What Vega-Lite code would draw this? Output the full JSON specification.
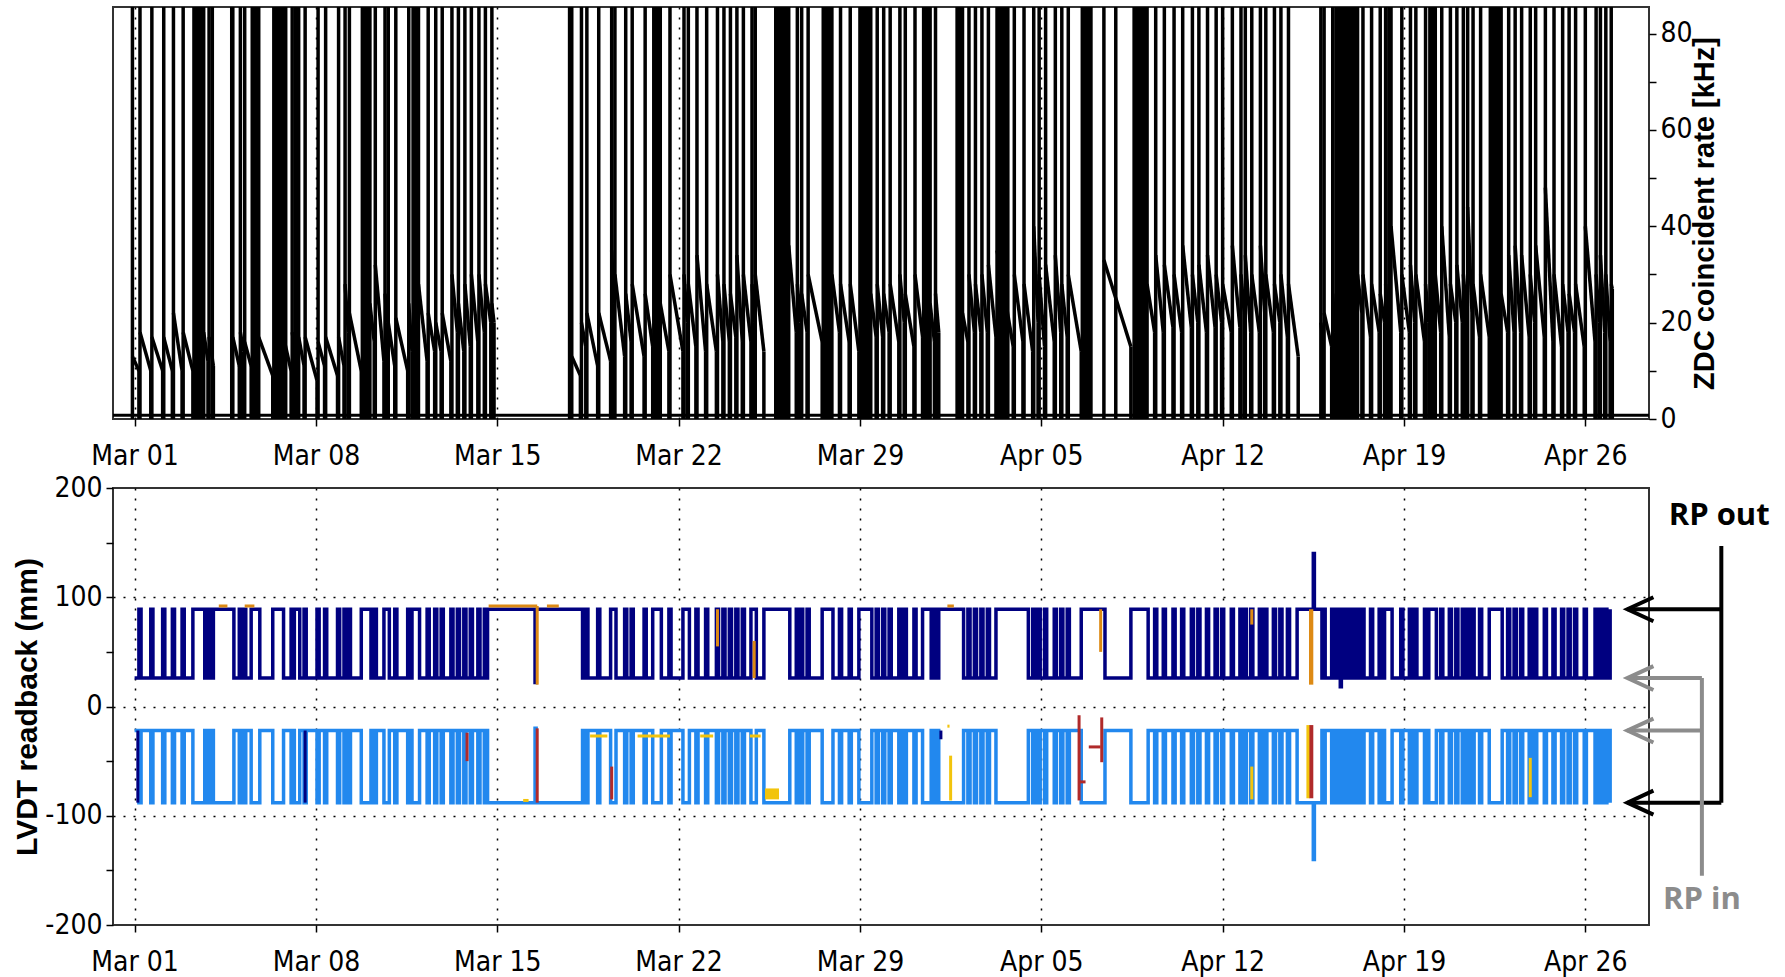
{
"$schema":"https://vega.github.io/schema/vega-lite/v6.json",
"background":"white",
"padding":{"left":11,"top":6,"right":5,"bottom":5},
"spacing":2,
"config":{
 "view":{"stroke":"#333333","strokeWidth":2},
 "axis":{"labelFont":"Liberation Sans Narrow, DejaVu Sans Condensed, Roboto Condensed, Roboto, sans-serif","labelFontSize":28,"labelColor":"#000000","tickColor":"#000000","tickWidth":1.5,"tickSize":7,"domain":false,"titleFont":"Liberation Sans, Arial, sans-serif","titleFontWeight":"bold","titleColor":"#000000","gridColor":"#000000","gridDash":[2,8],"gridWidth":1.5,"labelOverlap":false,"labelBound":false,"labelFlush":false}
},
"vconcat":[
{
 "width":1536,"height":412,
 "layer":[
  {"data":{"values":[{"v":0.8}]},
   "mark":{"type":"rule","color":"#000000","strokeWidth":3},
   "encoding":{"y":{"field":"v","type":"quantitative","scale":{"domain":[0,85.5],"nice":false,"zero":false},"axis":{"orient":"right","values":[0,10,20,30,40,50,60,70,80],"labelExpr":"datum.value % 20 === 0 ? '' + datum.value : ''","grid":false,"title":"ZDC coincident rate [kHz]","titleAngle":270,"titleFontSize":29,"labelPadding":4,"titlePadding":27}}}},
  {"data":{"values":[
{"s":"022822","e":"030104","p":13,"q":10},
{"s":"030105","e":"030115","p":18,"q":10},
{"s":"030116","e":"030202","p":17,"q":10},
{"s":"030203","e":"030211","p":17,"q":10},
{"s":"030212","e":"030220","p":22,"q":10},
{"s":"030221","e":"030306","p":18,"q":10},
{"s":"030316","e":"030320","p":18,"q":12},
{"s":"030321","e":"030401","p":17,"q":11},
{"s":"030419","e":"030501","p":17,"q":11},
{"s":"030502","e":"030505","p":18,"q":14},
{"s":"030506","e":"030512","p":16,"q":11},
{"s":"030519","e":"030608","p":17,"q":9},
{"s":"030617","e":"030701","p":18,"q":10},
{"s":"030702","e":"030704","p":18,"q":15},
{"s":"030705","e":"030707","p":17,"q":14},
{"s":"030708","e":"030713","p":17,"q":11},
{"s":"030714","e":"030801","p":17,"q":8},
{"s":"030802","e":"030808","p":16,"q":11},
{"s":"030809","e":"030820","p":17,"q":9},
{"s":"030821","e":"030902","p":17,"q":11},
{"s":"030903","e":"030906","p":28,"q":18},
{"s":"030907","e":"030918","p":22,"q":10},
{"s":"031002","e":"031006","p":24,"q":16},
{"s":"031007","e":"031015","p":32,"q":12},
{"s":"031016","e":"031018","p":26,"q":20},
{"s":"031019","e":"031101","p":20,"q":11},
{"s":"031102","e":"031113","p":21,"q":10},
{"s":"031114","e":"031117","p":24,"q":14},
{"s":"031123","e":"031207","p":28,"q":12},
{"s":"031208","e":"031214","p":22,"q":14},
{"s":"031215","e":"031220","p":20,"q":14},
{"s":"031221","e":"031305","p":22,"q":12},
{"s":"031306","e":"031311","p":30,"q":18},
{"s":"031312","e":"031317","p":24,"q":14},
{"s":"031318","e":"031323","p":28,"q":15},
{"s":"031400","e":"031406","p":30,"q":16},
{"s":"031407","e":"031412","p":30,"q":18},
{"s":"031413","e":"031418","p":28,"q":20},
{"s":"031419","e":"031421","p":24,"q":20},
{"s":"031721","e":"031805","p":13,"q":9},
{"s":"031806","e":"031810","p":20,"q":15},
{"s":"031811","e":"031821","p":22,"q":11},
{"s":"031822","e":"031909","p":22,"q":12},
{"s":"031910","e":"031912","p":35,"q":24},
{"s":"031913","e":"031922","p":30,"q":13},
{"s":"031923","e":"032004","p":26,"q":16},
{"s":"032005","e":"032016","p":28,"q":13},
{"s":"032017","e":"032100","p":26,"q":15},
{"s":"032107","e":"032115","p":24,"q":14},
{"s":"032116","e":"032204","p":30,"q":14},
{"s":"032205","e":"032208","p":30,"q":20},
{"s":"032209","e":"032216","p":28,"q":15},
{"s":"032217","e":"032301","p":34,"q":14},
{"s":"032302","e":"032311","p":28,"q":14},
{"s":"032312","e":"032317","p":30,"q":16},
{"s":"032318","e":"032323","p":28,"q":16},
{"s":"032400","e":"032405","p":26,"q":17},
{"s":"032406","e":"032411","p":34,"q":16},
{"s":"032412","e":"032419","p":30,"q":16},
{"s":"032420","e":"032422","p":28,"q":20},
{"s":"032423","e":"032507","p":30,"q":14},
{"s":"032606","e":"032613","p":36,"q":18},
{"s":"032614","e":"032617","p":28,"q":20},
{"s":"032618","e":"032623","p":26,"q":18},
{"s":"032700","e":"032713","p":30,"q":16},
{"s":"032722","e":"032805","p":30,"q":18},
{"s":"032806","e":"032814","p":28,"q":16},
{"s":"032815","e":"032823","p":28,"q":14},
{"s":"032910","e":"032915","p":26,"q":17},
{"s":"032916","e":"032921","p":28,"q":17},
{"s":"032922","e":"033003","p":26,"q":18},
{"s":"033004","e":"033012","p":28,"q":16},
{"s":"033013","e":"033017","p":30,"q":20},
{"s":"033018","e":"033102","p":26,"q":15},
{"s":"033103","e":"033110","p":30,"q":17},
{"s":"033117","e":"033121","p":24,"q":16},
{"s":"033122","e":"040101","p":26,"q":18},
{"s":"040123","e":"040204","p":22,"q":16},
{"s":"040205","e":"040210","p":30,"q":18},
{"s":"040211","e":"040216","p":28,"q":18},
{"s":"040217","e":"040222","p":30,"q":18},
{"s":"040223","e":"040306","p":32,"q":17},
{"s":"040307","e":"040322","p":35,"q":15},
{"s":"040323","e":"040407","p":30,"q":16},
{"s":"040408","e":"040416","p":28,"q":14},
{"s":"040417","e":"040421","p":40,"q":20},
{"s":"040422","e":"040503","p":30,"q":15},
{"s":"040504","e":"040512","p":32,"q":16},
{"s":"040513","e":"040518","p":34,"q":18},
{"s":"040519","e":"040600","p":28,"q":17},
{"s":"040601","e":"040613","p":30,"q":14},
{"s":"040710","e":"040811","p":33,"q":15},
{"s":"040902","e":"040909","p":28,"q":18},
{"s":"040910","e":"040917","p":34,"q":18},
{"s":"040918","e":"041002","p":32,"q":19},
{"s":"041003","e":"041010","p":30,"q":18},
{"s":"041011","e":"041019","p":36,"q":19},
{"s":"041020","e":"041101","p":30,"q":20},
{"s":"041102","e":"041109","p":32,"q":18},
{"s":"041110","e":"041117","p":34,"q":19},
{"s":"041118","e":"041123","p":30,"q":20},
{"s":"041200","e":"041208","p":28,"q":18},
{"s":"041209","e":"041216","p":36,"q":19},
{"s":"041217","e":"041220","p":30,"q":22},
{"s":"041221","e":"041302","p":34,"q":18},
{"s":"041303","e":"041310","p":30,"q":18},
{"s":"041311","e":"041315","p":36,"q":22},
{"s":"041316","e":"041323","p":30,"q":18},
{"s":"041400","e":"041405","p":28,"q":20},
{"s":"041406","e":"041412","p":30,"q":17},
{"s":"041413","e":"041422","p":28,"q":13},
{"s":"041519","e":"041521","p":20,"q":16},
{"s":"041522","e":"041605","p":22,"q":15},
{"s":"041606","e":"041608","p":26,"q":18},
{"s":"041705","e":"041709","p":30,"q":22},
{"s":"041710","e":"041717","p":30,"q":17},
{"s":"041718","e":"041801","p":28,"q":18},
{"s":"041802","e":"041806","p":26,"q":20},
{"s":"041807","e":"041809","p":28,"q":22},
{"s":"041812","e":"041821","p":40,"q":18},
{"s":"041822","e":"041905","p":30,"q":18},
{"s":"041906","e":"041910","p":32,"q":20},
{"s":"041911","e":"041919","p":30,"q":16},
{"s":"041920","e":"041923","p":28,"q":20},
{"s":"042005","e":"042010","p":30,"q":18},
{"s":"042011","e":"042018","p":40,"q":17},
{"s":"042019","e":"042100","p":28,"q":20},
{"s":"042101","e":"042106","p":32,"q":20},
{"s":"042107","e":"042110","p":30,"q":22},
{"s":"042111","e":"042115","p":44,"q":22},
{"s":"042116","e":"042122","p":28,"q":17},
{"s":"042123","e":"042207","p":30,"q":17},
{"s":"042218","e":"042300","p":26,"q":18},
{"s":"042301","e":"042306","p":34,"q":18},
{"s":"042307","e":"042312","p":36,"q":18},
{"s":"042313","e":"042320","p":34,"q":17},
{"s":"042321","e":"042401","p":30,"q":20},
{"s":"042402","e":"042410","p":36,"q":17},
{"s":"042411","e":"042418","p":48,"q":16},
{"s":"042419","e":"042502","p":30,"q":15},
{"s":"042503","e":"042508","p":28,"q":18},
{"s":"042509","e":"042514","p":26,"q":18},
{"s":"042515","e":"042523","p":28,"q":15},
{"s":"042600","e":"042609","p":40,"q":16},
{"s":"042610","e":"042613","p":30,"q":20},
{"s":"042614","e":"042618","p":34,"q":18},
{"s":"042619","e":"042623","p":30,"q":16},
{"s":"042700","e":"042701","p":28,"q":27}
],"format":{"parse":{"s":"date:'%m%d%H'","e":"date:'%m%d%H'"}}},
   "layer":[
    {"mark":{"type":"rule","color":"#000000","strokeWidth":3.5,"clip":true},
     "encoding":{"x":{"field":"s","type":"temporal","title":null,"scale":{"domain":[{"year":1900,"month":"feb","date":28,"hours":4},{"year":1900,"month":"apr","date":28,"hours":11}]},"axis":{"values":[{"year":1900,"month":"mar","date":1},{"year":1900,"month":"mar","date":8},{"year":1900,"month":"mar","date":15},{"year":1900,"month":"mar","date":22},{"year":1900,"month":"mar","date":29},{"year":1900,"month":"apr","date":5},{"year":1900,"month":"apr","date":12},{"year":1900,"month":"apr","date":19},{"year":1900,"month":"apr","date":26}],"format":"%b %d","grid":true,"title":null,"labelPadding":16}},
      "y":{"datum":0,"type":"quantitative","scale":{"domain":[0,85.5],"nice":false,"zero":false}},"y2":{"datum":100}}},
    {"mark":{"type":"rule","color":"#000000","strokeWidth":3.5,"clip":true},
     "encoding":{"x":{"field":"s","type":"temporal","title":null,"scale":{"domain":[{"year":1900,"month":"feb","date":28,"hours":4},{"year":1900,"month":"apr","date":28,"hours":11}]}},"x2":{"field":"e"},
      "y":{"field":"p","type":"quantitative","scale":{"domain":[0,85.5],"nice":false,"zero":false}},"y2":{"field":"q"}}},
    {"mark":{"type":"rule","color":"#000000","strokeWidth":3.5,"clip":true},
     "encoding":{"x":{"field":"e","type":"temporal","title":null,"scale":{"domain":[{"year":1900,"month":"feb","date":28,"hours":4},{"year":1900,"month":"apr","date":28,"hours":11}]}},
      "y":{"field":"q","type":"quantitative","scale":{"domain":[0,85.5],"nice":false,"zero":false}},"y2":{"datum":0}}}
   ]},
  {"data":{"values":[
{"t":"030307"},{"t":"030308"},{"t":"030309"},{"t":"030310"},{"t":"030311"},{"t":"030312"},{"t":"030313"},{"t":"030314"},{"t":"030315"},{"t":"030400"},{"t":"030418"},
{"t":"030513"},{"t":"030514"},{"t":"030515"},{"t":"030516"},{"t":"030517"},{"t":"030518"},
{"t":"030609"},{"t":"030610"},{"t":"030611"},{"t":"030612"},{"t":"030613"},{"t":"030614"},{"t":"030615"},{"t":"030616"},{"t":"030620"},
{"t":"030919"},{"t":"030920"},{"t":"030921"},{"t":"030922"},{"t":"030923"},{"t":"031000"},{"t":"031001"},
{"t":"031118"},{"t":"031119"},{"t":"031120"},{"t":"031121"},{"t":"031122"},{"t":"031719"},
{"t":"032101"},{"t":"032102"},{"t":"032103"},{"t":"032104"},{"t":"032105"},{"t":"032106"},
{"t":"032518"},{"t":"032519"},{"t":"032520"},{"t":"032521"},{"t":"032522"},{"t":"032523"},{"t":"032600"},{"t":"032601"},{"t":"032602"},{"t":"032603"},{"t":"032604"},{"t":"032605"},
{"t":"032714"},{"t":"032715"},{"t":"032716"},{"t":"032717"},{"t":"032718"},{"t":"032719"},{"t":"032720"},{"t":"032721"},
{"t":"032900"},{"t":"032901"},{"t":"032902"},{"t":"032903"},{"t":"032904"},{"t":"032905"},{"t":"032906"},{"t":"032907"},{"t":"032908"},{"t":"032909"},
{"t":"033111"},{"t":"033112"},{"t":"033113"},{"t":"033114"},{"t":"033115"},{"t":"033116"},
{"t":"040118"},{"t":"040119"},{"t":"040120"},{"t":"040121"},{"t":"040122"},
{"t":"040309"},{"t":"040311"},{"t":"040313"},{"t":"040315"},{"t":"040317"},
{"t":"040614"},{"t":"040615"},{"t":"040616"},{"t":"040617"},{"t":"040618"},{"t":"040619"},{"t":"040620"},{"t":"040621"},{"t":"040622"},{"t":"040721"},
{"t":"040814"},{"t":"040815"},{"t":"040816"},{"t":"040817"},{"t":"040818"},{"t":"040819"},{"t":"040820"},{"t":"040821"},{"t":"040822"},{"t":"040823"},{"t":"040900"},{"t":"040901"},
{"t":"041609"},{"t":"041610"},{"t":"041611"},{"t":"041612"},{"t":"041613"},{"t":"041614"},{"t":"041615"},
{"t":"041618"},{"t":"041619"},{"t":"041620"},{"t":"041621"},{"t":"041622"},{"t":"041623"},{"t":"041700"},{"t":"041701"},{"t":"041702"},{"t":"041703"},{"t":"041704"},
{"t":"041810"},{"t":"041811"},
{"t":"042000"},{"t":"042001"},{"t":"042002"},{"t":"042003"},{"t":"042004"},
{"t":"042208"},{"t":"042209"},{"t":"042210"},{"t":"042211"},{"t":"042212"},{"t":"042213"},{"t":"042214"},{"t":"042215"},{"t":"042216"},{"t":"042217"}
],"format":{"parse":{"t":"date:'%m%d%H'"}}},
   "mark":{"type":"rule","color":"#000000","strokeWidth":3.5,"clip":true},
   "encoding":{"x":{"field":"t","type":"temporal","title":null,"scale":{"domain":[{"year":1900,"month":"feb","date":28,"hours":4},{"year":1900,"month":"apr","date":28,"hours":11}]}},
    "y":{"datum":0,"type":"quantitative","scale":{"domain":[0,85.5],"nice":false,"zero":false}},"y2":{"datum":100}}}
 ]
},
{
 "width":1536,"height":437,
 "layer":[
  {"data":{"values":[
{"t":"030100","a":26,"b":-22},{"t":"030104","a":89,"b":-88},{"t":"030106","a":26,"b":-22},{"t":"030115","a":89,"b":-88},
{"t":"030117","a":26,"b":-22},{"t":"030202","a":89,"b":-88},{"t":"030204","a":26,"b":-22},{"t":"030211","a":89,"b":-88},
{"t":"030213","a":26,"b":-22},{"t":"030220","a":89,"b":-88},{"t":"030222","a":26,"b":-22},{"t":"030306","a":89,"b":-88},
{"t":"030317","a":26,"b":-22},{"t":"030320","a":89,"b":-88},{"t":"030322","a":26,"b":-22},{"t":"030401","a":89,"b":-88},
{"t":"030420","a":26,"b":-22},{"t":"030501","a":89,"b":-88},{"t":"030503","a":26,"b":-22},{"t":"030505","a":89,"b":-88},
{"t":"030507","a":26,"b":-22},{"t":"030512","a":89,"b":-88},{"t":"030520","a":26,"b":-22},{"t":"030608","a":89,"b":-88},
{"t":"030618","a":26,"b":-22},{"t":"030701","a":89,"b":-88},{"t":"030703","a":26,"b":-22},{"t":"030704","a":89,"b":-88},
{"t":"030709","a":26,"b":-22},{"t":"030713","a":89,"b":-88},{"t":"030715","a":26,"b":-22},{"t":"030801","a":89,"b":-88},
{"t":"030803","a":26,"b":-22},{"t":"030808","a":89,"b":-88},{"t":"030810","a":26,"b":-22},{"t":"030820","a":89,"b":-88},
{"t":"030822","a":26,"b":-22},{"t":"030902","a":89,"b":-88},{"t":"030904","a":26,"b":-22},{"t":"030906","a":89,"b":-88},
{"t":"030908","a":26,"b":-22},{"t":"030918","a":89,"b":-88},{"t":"031003","a":26,"b":-22},{"t":"031006","a":89,"b":-88},
{"t":"031008","a":26,"b":-22},{"t":"031015","a":89,"b":-88},{"t":"031020","a":26,"b":-22},{"t":"031101","a":89,"b":-88},
{"t":"031103","a":26,"b":-22},{"t":"031113","a":89,"b":-88},{"t":"031115","a":26,"b":-22},{"t":"031117","a":89,"b":-88},
{"t":"031200","a":26,"b":-22},{"t":"031207","a":89,"b":-88},{"t":"031209","a":26,"b":-22},{"t":"031214","a":89,"b":-88},
{"t":"031216","a":26,"b":-22},{"t":"031220","a":89,"b":-88},{"t":"031222","a":26,"b":-22},{"t":"031305","a":89,"b":-88},
{"t":"031307","a":26,"b":-22},{"t":"031311","a":89,"b":-88},{"t":"031313","a":26,"b":-22},{"t":"031317","a":89,"b":-88},
{"t":"031319","a":26,"b":-22},{"t":"031323","a":89,"b":-88},{"t":"031401","a":26,"b":-22},{"t":"031406","a":89,"b":-88},
{"t":"031408","a":26,"b":-22},{"t":"031412","a":89,"b":-88},{"t":"031414","a":26,"b":-22},{"t":"031415","a":89,"b":-88},
{"t":"031611","a":22,"b":-20},{"t":"031612","a":89,"b":-88},
{"t":"031807","a":26,"b":-22},{"t":"031810","a":89,"b":-88},{"t":"031812","a":26,"b":-22},{"t":"031821","a":89,"b":-88},
{"t":"031823","a":26,"b":-22},{"t":"031909","a":89,"b":-88},{"t":"031914","a":26,"b":-22},{"t":"031922","a":89,"b":-88},
{"t":"032000","a":26,"b":-22},{"t":"032004","a":89,"b":-88},{"t":"032006","a":26,"b":-22},{"t":"032016","a":89,"b":-88},
{"t":"032018","a":26,"b":-22},{"t":"032100","a":89,"b":-88},{"t":"032108","a":26,"b":-22},{"t":"032115","a":89,"b":-88},
{"t":"032117","a":26,"b":-22},{"t":"032204","a":89,"b":-88},{"t":"032210","a":26,"b":-22},{"t":"032216","a":89,"b":-88},
{"t":"032218","a":26,"b":-22},{"t":"032301","a":89,"b":-88},{"t":"032303","a":26,"b":-22},{"t":"032311","a":89,"b":-88},
{"t":"032313","a":26,"b":-22},{"t":"032317","a":89,"b":-88},{"t":"032319","a":26,"b":-22},{"t":"032323","a":89,"b":-88},
{"t":"032401","a":26,"b":-22},{"t":"032405","a":89,"b":-88},{"t":"032407","a":26,"b":-22},{"t":"032411","a":89,"b":-88},
{"t":"032413","a":26,"b":-22},{"t":"032419","a":89,"b":-88},{"t":"032500","a":26,"b":-22},{"t":"032507","a":89,"b":-88},
{"t":"032607","a":26,"b":-22},{"t":"032613","a":89,"b":-88},{"t":"032615","a":26,"b":-22},{"t":"032617","a":89,"b":-88},
{"t":"032619","a":26,"b":-22},{"t":"032623","a":89,"b":-88},{"t":"032701","a":26,"b":-22},{"t":"032713","a":89,"b":-88},
{"t":"032723","a":26,"b":-22},{"t":"032805","a":89,"b":-88},{"t":"032807","a":26,"b":-22},{"t":"032814","a":89,"b":-88},
{"t":"032816","a":26,"b":-22},{"t":"032823","a":89,"b":-88},{"t":"032911","a":26,"b":-22},{"t":"032915","a":89,"b":-88},
{"t":"032917","a":26,"b":-22},{"t":"032921","a":89,"b":-88},{"t":"032923","a":26,"b":-22},{"t":"033003","a":89,"b":-88},
{"t":"033005","a":26,"b":-22},{"t":"033012","a":89,"b":-88},{"t":"033014","a":26,"b":-22},{"t":"033017","a":89,"b":-88},
{"t":"033019","a":26,"b":-22},{"t":"033102","a":89,"b":-88},{"t":"033104","a":26,"b":-22},{"t":"033110","a":89,"b":-88},
{"t":"033118","a":26,"b":-22},{"t":"033121","a":89,"b":-88},{"t":"033123","a":26,"b":-22},{"t":"040101","a":89,"b":-88},
{"t":"040200","a":26,"b":-22},{"t":"040204","a":89,"b":-88},{"t":"040206","a":26,"b":-22},{"t":"040210","a":89,"b":-88},
{"t":"040212","a":26,"b":-22},{"t":"040216","a":89,"b":-88},{"t":"040218","a":26,"b":-22},{"t":"040222","a":89,"b":-88},
{"t":"040300","a":26,"b":-22},{"t":"040306","a":89,"b":-88},{"t":"040412","a":26,"b":-22},{"t":"040416","a":89,"b":-88},
{"t":"040418","a":26,"b":-22},{"t":"040421","a":89,"b":-88},{"t":"040423","a":26,"b":-22},{"t":"040503","a":89,"b":-88},
{"t":"040505","a":26,"b":-22},{"t":"040512","a":89,"b":-88},{"t":"040514","a":26,"b":-22},{"t":"040518","a":89,"b":-88},
{"t":"040520","a":26,"b":-22},{"t":"040600","a":89,"b":-88},{"t":"040602","a":26,"b":-22},{"t":"040613","a":89,"b":-88},
{"t":"040711","a":26,"b":-22},{"t":"040811","a":89,"b":-88},{"t":"040903","a":26,"b":-22},{"t":"040909","a":89,"b":-88},
{"t":"040911","a":26,"b":-22},{"t":"040917","a":89,"b":-88},{"t":"040919","a":26,"b":-22},{"t":"041002","a":89,"b":-88},
{"t":"041004","a":26,"b":-22},{"t":"041010","a":89,"b":-88},{"t":"041012","a":26,"b":-22},{"t":"041019","a":89,"b":-88},
{"t":"041021","a":26,"b":-22},{"t":"041101","a":89,"b":-88},{"t":"041103","a":26,"b":-22},{"t":"041109","a":89,"b":-88},
{"t":"041111","a":26,"b":-22},{"t":"041117","a":89,"b":-88},{"t":"041119","a":26,"b":-22},{"t":"041123","a":89,"b":-88},
{"t":"041201","a":26,"b":-22},{"t":"041208","a":89,"b":-88},{"t":"041210","a":26,"b":-22},{"t":"041216","a":89,"b":-88},
{"t":"041218","a":26,"b":-22},{"t":"041220","a":89,"b":-88},{"t":"041222","a":26,"b":-22},{"t":"041302","a":89,"b":-88},
{"t":"041304","a":26,"b":-22},{"t":"041310","a":89,"b":-88},{"t":"041312","a":26,"b":-22},{"t":"041315","a":89,"b":-88},
{"t":"041317","a":26,"b":-22},{"t":"041323","a":89,"b":-88},{"t":"041401","a":26,"b":-22},{"t":"041405","a":89,"b":-88},
{"t":"041407","a":26,"b":-22},{"t":"041412","a":89,"b":-88},{"t":"041414","a":26,"b":-22},{"t":"041421","a":89,"b":-88},
{"t":"041512","a":140,"b":-140},{"t":"041513","a":89,"b":-88},
{"t":"041520","a":26,"b":-22},{"t":"041521","a":89,"b":-88},{"t":"041523","a":26,"b":-22},{"t":"041605","a":89,"b":-88},
{"t":"041607","a":26,"b":-22},{"t":"041608","a":89,"b":-88},{"t":"041609","a":26,"b":-22},{"t":"041610","a":89,"b":-88},
{"t":"041611","a":26,"b":-22},{"t":"041612","a":89,"b":-88},{"t":"041613","a":18,"b":-22},{"t":"041614","a":89,"b":-88},
{"t":"041615","a":26,"b":-22},{"t":"041616","a":89,"b":-88},{"t":"041618","a":26,"b":-22},{"t":"041619","a":89,"b":-88},
{"t":"041620","a":26,"b":-22},{"t":"041621","a":89,"b":-88},{"t":"041622","a":26,"b":-22},{"t":"041623","a":89,"b":-88},
{"t":"041700","a":26,"b":-22},{"t":"041701","a":89,"b":-88},{"t":"041702","a":26,"b":-22},{"t":"041703","a":89,"b":-88},
{"t":"041706","a":26,"b":-22},{"t":"041709","a":89,"b":-88},{"t":"041711","a":26,"b":-22},{"t":"041717","a":89,"b":-88},
{"t":"041719","a":26,"b":-22},{"t":"041801","a":89,"b":-88},{"t":"041803","a":26,"b":-22},{"t":"041806","a":89,"b":-88},
{"t":"041813","a":26,"b":-22},{"t":"041821","a":89,"b":-88},{"t":"041823","a":26,"b":-22},{"t":"041905","a":89,"b":-88},
{"t":"041907","a":26,"b":-22},{"t":"041910","a":89,"b":-88},{"t":"041912","a":26,"b":-22},{"t":"041919","a":89,"b":-88},
{"t":"041921","a":26,"b":-22},{"t":"041923","a":89,"b":-88},{"t":"042006","a":26,"b":-22},{"t":"042010","a":89,"b":-88},
{"t":"042012","a":26,"b":-22},{"t":"042018","a":89,"b":-88},{"t":"042020","a":26,"b":-22},{"t":"042100","a":89,"b":-88},
{"t":"042102","a":26,"b":-22},{"t":"042106","a":89,"b":-88},{"t":"042108","a":26,"b":-22},{"t":"042110","a":89,"b":-88},
{"t":"042112","a":26,"b":-22},{"t":"042115","a":89,"b":-88},{"t":"042117","a":26,"b":-22},{"t":"042122","a":89,"b":-88},
{"t":"042200","a":26,"b":-22},{"t":"042207","a":89,"b":-88},{"t":"042219","a":26,"b":-22},{"t":"042300","a":89,"b":-88},
{"t":"042302","a":26,"b":-22},{"t":"042306","a":89,"b":-88},{"t":"042308","a":26,"b":-22},{"t":"042312","a":89,"b":-88},
{"t":"042314","a":26,"b":-22},{"t":"042320","a":89,"b":-88},{"t":"042322","a":26,"b":-22},{"t":"042401","a":89,"b":-88},
{"t":"042403","a":26,"b":-22},{"t":"042410","a":89,"b":-88},{"t":"042412","a":26,"b":-22},{"t":"042418","a":89,"b":-88},
{"t":"042420","a":26,"b":-22},{"t":"042502","a":89,"b":-88},{"t":"042504","a":26,"b":-22},{"t":"042508","a":89,"b":-88},
{"t":"042510","a":26,"b":-22},{"t":"042514","a":89,"b":-88},{"t":"042516","a":26,"b":-22},{"t":"042523","a":89,"b":-88},
{"t":"042601","a":26,"b":-22},{"t":"042609","a":89,"b":-88},{"t":"042611","a":26,"b":-22},{"t":"042613","a":89,"b":-88},
{"t":"042615","a":26,"b":-22},{"t":"042618","a":89,"b":-88},{"t":"042620","a":26,"b":-22},{"t":"042623","a":89,"b":-88}
],"format":{"parse":{"t":"date:'%m%d%H'"}}},
   "layer":[
    {"mark":{"type":"line","interpolate":"step-after","color":"#2288ee","strokeWidth":3.5},
     "encoding":{"x":{"field":"t","type":"temporal","title":null,"scale":{"domain":[{"year":1900,"month":"feb","date":28,"hours":4},{"year":1900,"month":"apr","date":28,"hours":11}]},"axis":{"values":[{"year":1900,"month":"mar","date":1},{"year":1900,"month":"mar","date":8},{"year":1900,"month":"mar","date":15},{"year":1900,"month":"mar","date":22},{"year":1900,"month":"mar","date":29},{"year":1900,"month":"apr","date":5},{"year":1900,"month":"apr","date":12},{"year":1900,"month":"apr","date":19},{"year":1900,"month":"apr","date":26}],"format":"%b %d","grid":true,"title":null,"labelPadding":16}},
      "y":{"field":"b","type":"quantitative","scale":{"domain":[-200,200],"nice":false},"axis":{"values":[-200,-150,-100,-50,0,50,100,150,200],"labelExpr":"datum.value % 100 === 0 ? '' + datum.value : ''","grid":true,"gridOpacity":{"condition":{"test":"datum.value % 100 === 0 && abs(datum.value) < 200","value":1},"value":0},"title":"LVDT readback (mm)","titleFontSize":30,"titlePadding":2,"labelPadding":4}}}},
    {"mark":{"type":"line","interpolate":"step-after","color":"#000080","strokeWidth":3.5},
     "encoding":{"x":{"field":"t","type":"temporal","title":null,"scale":{"domain":[{"year":1900,"month":"feb","date":28,"hours":4},{"year":1900,"month":"apr","date":28,"hours":11}]}},
      "y":{"field":"a","type":"quantitative","scale":{"domain":[-200,200],"nice":false}}}}
   ]},
  {"data":{"values":[
{"t":"041508","t2":"041512","y":89,"y2":20,"c":"o"},
{"t":"041508","t2":"041512","y":-17,"y2":-84,"c":"r"},
{"t":"032508","t2":"032521","y":-75,"y2":-85,"c":"y"}
],"format":{"parse":{"t":"date:'%m%d%H'","t2":"date:'%m%d%H'"}}},
   "mark":{"type":"rect"},
   "encoding":{"x":{"field":"t","type":"temporal","title":null,"scale":{"domain":[{"year":1900,"month":"feb","date":28,"hours":4},{"year":1900,"month":"apr","date":28,"hours":11}]}},"x2":{"field":"t2"},
    "y":{"field":"y","type":"quantitative","scale":{"domain":[-200,200],"nice":false}},"y2":{"field":"y2"},
    "color":{"field":"c","type":"nominal","scale":{"domain":["o","y","r","n","k","g"],"range":["#dd8a14","#f2c40c","#b02a2a","#000080","#000000","#8c8c8c"]},"legend":null}}},
  {"data":{"values":[
{"t":"031416","t2":"031613","y":92,"y2":92,"c":"o"},
{"t":"031622","t2":"031709","y":92,"y2":92,"c":"o"},
{"t":"031613","t2":"031613","y":92,"y2":20,"c":"o"},
{"t":"030406","t2":"030414","y":92,"y2":92,"c":"o"},
{"t":"030506","t2":"030515","y":92,"y2":92,"c":"o"},
{"t":"032312","t2":"032312","y":89,"y2":55,"c":"o"},
{"t":"032422","t2":"032422","y":60,"y2":26,"c":"o"},
{"t":"040109","t2":"040115","y":92,"y2":92,"c":"o"},
{"t":"040707","t2":"040707","y":89,"y2":50,"c":"o"},
{"t":"041303","t2":"041303","y":89,"y2":75,"c":"o"},
{"t":"031600","t2":"031605","y":-86,"y2":-86,"c":"y"},
{"t":"031814","t2":"031906","y":-27,"y2":-27,"c":"y"},
{"t":"032010","t2":"032116","y":-27,"y2":-27,"c":"y"},
{"t":"032220","t2":"032308","y":-27,"y2":-27,"c":"y"},
{"t":"032418","t2":"032504","y":-27,"y2":-27,"c":"y"},
{"t":"040112","t2":"040112","y":-45,"y2":-86,"c":"y"},
{"t":"040109","t2":"040111","y":-18,"y2":-18,"c":"y"},
{"t":"041303","t2":"041303","y":-55,"y2":-85,"c":"y"},
{"t":"042321","t2":"042321","y":-47,"y2":-83,"c":"y"},
{"t":"041507","t2":"041507","y":-17,"y2":-84,"c":"y"},
{"t":"031613","t2":"031613","y":-20,"y2":-88,"c":"r"},
{"t":"031320","t2":"031320","y":-24,"y2":-50,"c":"r"},
{"t":"031910","t2":"031910","y":-55,"y2":-85,"c":"r"},
{"t":"040611","t2":"040611","y":-8,"y2":-86,"c":"r"},
{"t":"040611","t2":"040617","y":-69,"y2":-69,"c":"r"},
{"t":"040620","t2":"040707","y":-37,"y2":-37,"c":"r"},
{"t":"040708","t2":"040708","y":-10,"y2":-51,"c":"r"},
{"t":"030103","t2":"030103","y":-22,"y2":-88,"c":"n"},
{"t":"030714","t2":"030714","y":-22,"y2":-88,"c":"n"},
{"t":"040103","t2":"040103","y":-22,"y2":-30,"c":"n"}
],"format":{"parse":{"t":"date:'%m%d%H'","t2":"date:'%m%d%H'"}}},
   "mark":{"type":"rule","strokeWidth":3},
   "encoding":{"x":{"field":"t","type":"temporal","title":null,"scale":{"domain":[{"year":1900,"month":"feb","date":28,"hours":4},{"year":1900,"month":"apr","date":28,"hours":11}]}},"x2":{"field":"t2"},
    "y":{"field":"y","type":"quantitative","scale":{"domain":[-200,200],"nice":false}},"y2":{"field":"y2"},
    "color":{"field":"c","type":"nominal","scale":{"domain":["o","y","r","n","k","g"],"range":["#dd8a14","#f2c40c","#b02a2a","#000080","#000000","#8c8c8c"]},"legend":null}}},
  {"data":{"values":[
{"t":"042715","t2":"050106","y":89,"y2":89,"c":"k"},
{"t":"042715","t2":"050106","y":-88,"y2":-88,"c":"k"},
{"t":"050106","t2":"050106","y":147,"y2":-88,"c":"k"},
{"t":"042715","t2":"043012","y":26,"y2":26,"c":"g"},
{"t":"042715","t2":"043012","y":-22,"y2":-22,"c":"g"},
{"t":"043012","t2":"043012","y":26,"y2":-155,"c":"g"}
],"format":{"parse":{"t":"date:'%m%d%H'","t2":"date:'%m%d%H'"}}},
   "mark":{"type":"rule","strokeWidth":4},
   "encoding":{"x":{"field":"t","type":"temporal","title":null,"scale":{"domain":[{"year":1900,"month":"feb","date":28,"hours":4},{"year":1900,"month":"apr","date":28,"hours":11}]}},"x2":{"field":"t2"},
    "y":{"field":"y","type":"quantitative","scale":{"domain":[-200,200],"nice":false}},"y2":{"field":"y2"},
    "color":{"field":"c","type":"nominal","scale":{"domain":["o","y","r","n","k","g"],"range":["#dd8a14","#f2c40c","#b02a2a","#000080","#000000","#8c8c8c"]},"legend":null}}},
  {"data":{"values":[
{"t":"042715","y":89,"c":"k"},{"t":"042715","y":-88,"c":"k"},{"t":"042715","y":26,"c":"g"},{"t":"042715","y":-22,"c":"g"}
],"format":{"parse":{"t":"date:'%m%d%H'"}}},
   "mark":{"type":"point","shape":"M1,-0.46L0,0L1,0.46","filled":false,"strokeWidth":4,"size":2704,"opacity":1},
   "encoding":{"x":{"field":"t","type":"temporal","title":null,"scale":{"domain":[{"year":1900,"month":"feb","date":28,"hours":4},{"year":1900,"month":"apr","date":28,"hours":11}]}},
    "y":{"field":"y","type":"quantitative","scale":{"domain":[-200,200],"nice":false}},
    "color":{"field":"c","type":"nominal","scale":{"domain":["o","y","r","n","k","g"],"range":["#dd8a14","#f2c40c","#b02a2a","#000080","#000000","#8c8c8c"]},"legend":null}}},
  {"data":{"values":[
{"t":"050104","y":174,"c":"k","txt":"RP out"},{"t":"043012","y":-177,"c":"g","txt":"RP in"}
],"format":{"parse":{"t":"date:'%m%d%H'"}}},
   "mark":{"type":"text","font":"Open Sans, Liberation Sans, sans-serif","fontWeight":"bold","fontSize":31,"align":"center","baseline":"middle"},
   "encoding":{"x":{"field":"t","type":"temporal","title":null,"scale":{"domain":[{"year":1900,"month":"feb","date":28,"hours":4},{"year":1900,"month":"apr","date":28,"hours":11}]}},
    "y":{"field":"y","type":"quantitative","scale":{"domain":[-200,200],"nice":false}},
    "text":{"field":"txt"},
    "color":{"field":"c","type":"nominal","scale":{"domain":["o","y","r","n","k","g"],"range":["#dd8a14","#f2c40c","#b02a2a","#000080","#000000","#8c8c8c"]},"legend":null}}}
 ]
}
]
}
